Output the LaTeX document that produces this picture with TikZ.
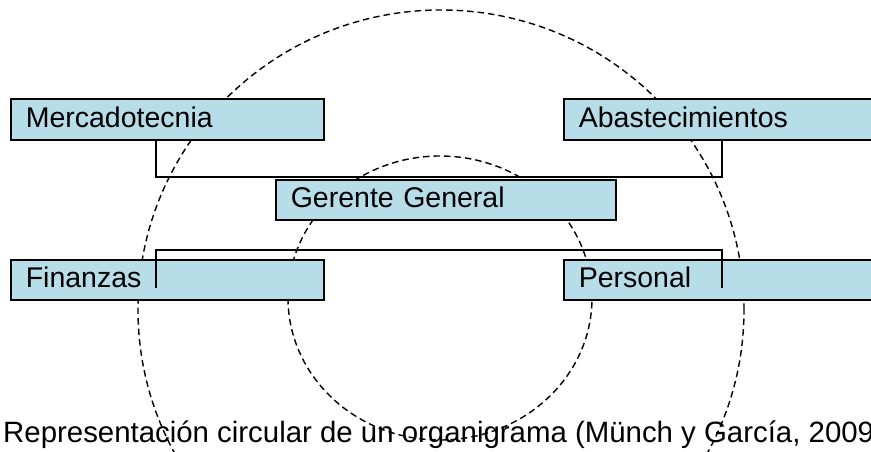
\documentclass[tikz,border=0pt]{standalone}
\usepackage{fontspec}
\setmainfont{Liberation Sans}
\usepackage{tikz}
\definecolor{celeste}{RGB}{183,221,232}

\begin{document}
\begin{tikzpicture}[x=1pt, y=1pt,
    caja/.style={rectangle, draw, fill=celeste, line width=1.6pt, anchor=west,
      minimum height=41pt, inner xsep=15pt, inner ysep=0pt, align=left,
      text height=21pt, text depth=5pt, font=\fontsize{28.5}{34}\selectfont},
    enlace/.style={line width=1.2pt},
    circulo/.style={line width=1.4pt, dash pattern=on 6.5pt off 4pt}]
  \useasboundingbox (0,0) rectangle (871,452);

  % Circles
  \draw[circulo] (441,142) ellipse [x radius=303, y radius=300];
  \draw[circulo] (440,154) ellipse [x radius=152, y radius=142];

  % Nodes
  \node[caja, text width=283pt] (merc) at (10,332.5) {Mercadotecnia};
  \node[caja, text width=283pt] (abas) at (563,332.5) {Abastecimientos};
  \node[caja, text width=310pt, minimum height=40pt] (gg) at (275,252) {Gerente General};
  \node[caja, text width=283pt, minimum height=40pt] (fin) at (10,172) {Finanzas};
  \node[caja, text width=283pt, minimum height=40pt] (pers) at (563,172) {Personal};

  % Edges
  \coordinate (t1) at (156,275);
  \coordinate (t2) at (722,275);
  \coordinate (b1) at (156,202);
  \coordinate (b2) at (722,202);
  \coordinate (f1) at (156,164);
  \coordinate (p1) at (722,164);
  \draw[enlace] (merc.south -| t1) -- (t1) -- (t2) -- (abas.south -| t2);
  \draw[enlace] (f1) -- (b1) -- (b2) -- (p1);

  % Caption
  \node[anchor=base west, inner sep=0pt, font=\fontsize{29.4}{34}\selectfont] (pie) at (3,9)
    {Representación circular de un organigrama (Münch y García, 2009)};
\end{tikzpicture}
\end{document}
